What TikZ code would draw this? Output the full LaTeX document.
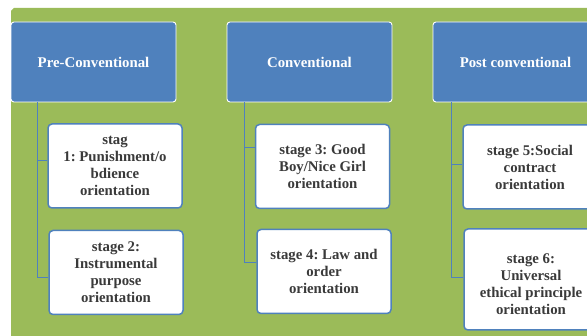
\documentclass[tikz,border=0pt]{standalone}
\usepackage{fontspec}
\setmainfont{Liberation Serif}
\frenchspacing
\definecolor{bggreen}{HTML}{9BBB59}
\definecolor{hdrblue}{HTML}{4F81BD}
\definecolor{txtgray}{HTML}{3A3A3A}
\begin{document}
\begin{tikzpicture}[x=1pt,y=-1pt,
  hdr/.style={rectangle,rounded corners=3pt,fill=hdrblue,draw=white,line width=0.9pt,
    minimum width=165pt,minimum height=80pt,inner sep=0pt,text=white,
    font=\fontsize{14.8}{17}\selectfont\bfseries},
  stagebox/.style={rectangle,rounded corners=4pt,fill=white,draw=hdrblue,line width=1.5pt,
    minimum width=134pt,minimum height=84pt,inner sep=0pt,align=center,text=txtgray,
    font=\fontsize{14.8}{17}\selectfont\bfseries},
  conn/.style={draw=hdrblue,line width=1pt}]
\useasboundingbox (0,0) rectangle (587,336);
\clip (0,0) rectangle (587,336);
\fill[bggreen] (11,11) -- (14,8) -- (600,8) -- (600,340) -- (11,340) -- cycle;

\node[hdr] (pre) at (93.5,62) {Pre-Conventional};
\node[hdr] (conv) at (309.5,62) {Conventional};
\node[hdr] (post) at (515.5,62) {Post conventional};

\coordinate (p1) at ([xshift=26.5pt]pre.south west);
\coordinate (p2) at ([xshift=18pt]conv.south west);
\coordinate (p3) at ([xshift=19pt]post.south west);

\node[stagebox] (s1) at (115,166) {stag\\1: Punishment/o\\bdience\\orientation};
\node[stagebox] (s2) at (116,272.5) {stage 2:\\Instrumental\\purpose\\orientation};
\node[stagebox] (s3) at (322.5,166.5) {stage 3: Good\\Boy/Nice Girl\\orientation};
\node[stagebox] (s4) at (324,271.5) {stage 4: Law and\\order\\orientation};
\node[stagebox] (s5) at (530,167) {stage 5:Social\\contract\\orientation};
\node[stagebox,minimum height=101pt,text height=70pt] (s6) at (531,279.5) {stage 6:\\Universal\\ethical principle\\orientation};

\draw[conn] (p1) |- ([yshift=5pt]s1.west);
\draw[conn] (p1) |- ([yshift=-5.5pt]s2.west);
\draw[conn] (p2) |- ([yshift=18.5pt]s3.west);
\draw[conn] (p2) |- ([yshift=8.5pt]s4.west);
\draw[conn] (p3) |- ([yshift=2pt]s5.west);
\draw[conn] (p3) |- ([yshift=1.5pt]s6.west);
\end{tikzpicture}
\end{document}
